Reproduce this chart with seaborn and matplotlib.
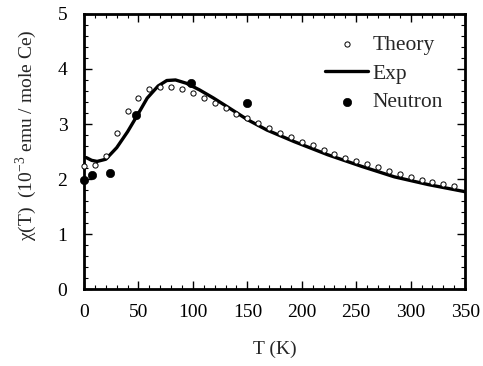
import numpy as np
import pandas as pd
import matplotlib
matplotlib.use("Agg")
import matplotlib.pyplot as plt
import seaborn as sns
from matplotlib.ticker import MultipleLocator

# Data
theory_T = [0, 10, 20, 30, 40, 50, 60, 70, 80, 90, 100, 110, 120, 130, 140, 150, 160,
            170, 180, 190, 200, 210, 220, 230, 240, 250, 260, 270, 280, 290, 300, 310,
            320, 330, 340]
theory_chi = [2.24, 2.25, 2.42, 2.84, 3.24, 3.48, 3.63, 3.68, 3.68, 3.63, 3.56, 3.48,
              3.39, 3.29, 3.19, 3.11, 3.02, 2.93, 2.84, 2.77, 2.68, 2.61, 2.53, 2.45,
              2.39, 2.33, 2.27, 2.21, 2.15, 2.09, 2.04, 1.99, 1.95, 1.91, 1.87]

exp_T = [2, 7, 12, 20, 30, 40, 49, 58, 68, 76, 84, 94, 106, 119, 131, 150, 168, 193,
         224, 255, 285, 316, 350]
exp_chi = [2.39, 2.34, 2.32, 2.36, 2.57, 2.86, 3.16, 3.47, 3.69, 3.79, 3.80, 3.74, 3.62,
           3.47, 3.32, 3.08, 2.89, 2.68, 2.44, 2.23, 2.04, 1.90, 1.77]

neutron_T = [0, 7.5, 23.5, 48, 98.5, 150]
neutron_chi = [1.98, 2.07, 2.11, 3.16, 3.74, 3.39]

sns.set_style("ticks")
plt.rcParams['font.family'] = ['Liberation Serif', 'DejaVu Serif']
plt.rcParams['mathtext.fontset'] = 'custom'
plt.rcParams['mathtext.rm'] = 'Liberation Serif'

fig = plt.figure(figsize=(4.83, 3.66), dpi=100)
ax = fig.add_axes([0.174, 0.210, 0.789, 0.752])

df_th = pd.DataFrame({"T": theory_T, "chi": theory_chi})
df_exp = pd.DataFrame({"T": exp_T, "chi": exp_chi})
df_n = pd.DataFrame({"T": neutron_T, "chi": neutron_chi})

sns.scatterplot(data=df_th, x="T", y="chi", ax=ax, marker="o", s=14,
                facecolor="white", edgecolor="black", linewidth=0.7,
                label="Theory", zorder=3, clip_on=False)
sns.lineplot(data=df_exp, x="T", y="chi", ax=ax, color="black", linewidth=2.4,
             label="Exp", zorder=2)
sns.scatterplot(data=df_n, x="T", y="chi", ax=ax, marker="o", s=36,
                color="black", edgecolor="black", label="Neutron", zorder=4,
                clip_on=False)

ax.set_xlim(0, 350)
ax.set_ylim(0, 5)
ax.xaxis.set_major_locator(MultipleLocator(50))
ax.xaxis.set_minor_locator(MultipleLocator(10))
ax.yaxis.set_major_locator(MultipleLocator(1))
ax.yaxis.set_minor_locator(MultipleLocator(0.2))
ax.tick_params(which="both", direction="in", top=True, right=True, labelsize=14,
               colors="black")
ax.tick_params(which="major", length=6, width=1)
ax.tick_params(which="minor", length=3, width=0.8)
ax.tick_params(axis="x", pad=11)
ax.tick_params(axis="y", pad=12)
for sp in ax.spines.values():
    sp.set_linewidth(2)
    sp.set_color("black")

ax.set_xlabel("T (K)", fontsize=14, labelpad=14)
ax.set_ylabel(r"χ(T)  (10$^{-3}$ emu / mole Ce)", fontsize=14)
ax.yaxis.set_label_coords(-0.118, 0.56)

leg = ax.legend(loc="upper left", bbox_to_anchor=(0.61, 0.955), frameon=False,
                fontsize=15.5, handlelength=2.0, handletextpad=0.2,
                labelspacing=0.4, borderaxespad=0.0)

fig.savefig("out.png", dpi=100)
